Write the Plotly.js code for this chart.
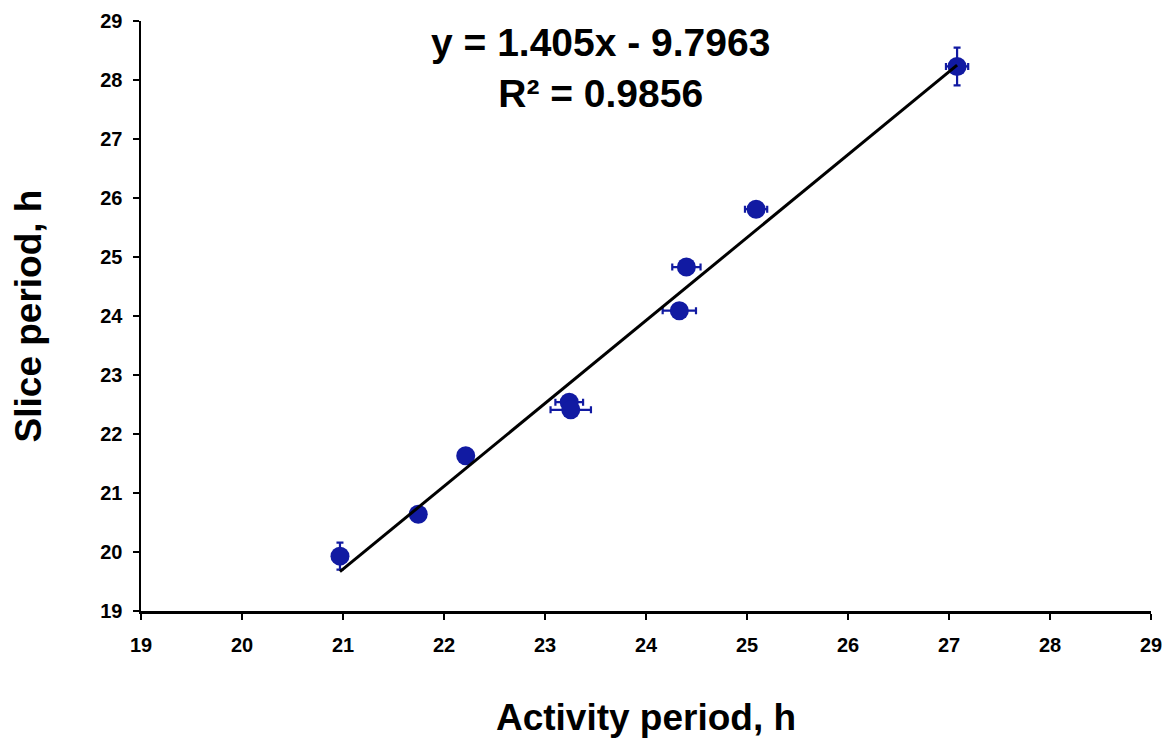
<!DOCTYPE html>
<html>
<head>
<meta charset="utf-8">
<script src="https://cdn.plot.ly/plotly-3.0.1.min.js"></script>
<style>html,body{margin:0;padding:0;background:#fff;}</style>
</head>
<body>
<div id="chart" style="width:1169px;height:743px;"></div>
<script>
// Data
const activityPeriod = [20.97, 21.745, 22.215, 23.24, 23.255, 24.33, 24.40, 25.09, 27.08];
const slicePeriod    = [19.93, 20.64, 21.63, 22.54, 22.41, 24.09, 24.83, 25.81, 28.23];
const activityErr    = [0.04, 0.05, 0.05, 0.137, 0.20, 0.165, 0.14, 0.11, 0.11];
const sliceErr       = [0.23, 0.05, 0.05, 0.05, 0.05, 0.05, 0.05, 0.05, 0.32];
const fitSlope = 1.405;
const fitIntercept = -9.7963;
const fitR2 = 0.9856;
const tickValues = [19, 20, 21, 22, 23, 24, 25, 26, 27, 28, 29];

const xMin = Math.min(...activityPeriod);
const xMax = Math.max(...activityPeriod);
const fitX = [xMin, xMax];
const fitY = fitX.map(v => fitSlope * v + fitIntercept);

const blue = '#111aa2';
const FONT = '"Liberation Sans", Arial, sans-serif';

const traces = [
  {
    type: 'scatter', mode: 'markers',
    x: activityPeriod, y: slicePeriod,
    marker: {color: blue, size: 19, line: {width: 0}},
    error_x: {type: 'data', array: activityErr, visible: true, color: blue, thickness: 2.2, width: 3.5},
    error_y: {type: 'data', array: sliceErr, visible: true, color: blue, thickness: 2.2, width: 3.5},
    showlegend: false, hoverinfo: 'x+y'
  },
  {
    type: 'scatter', mode: 'lines',
    x: fitX, y: fitY,
    line: {color: '#000', width: 3},
    showlegend: false, hoverinfo: 'skip'
  }
];

const axisCommon = {
  range: [19, 29],
  tickvals: tickValues,
  ticktext: tickValues.map(String),
  showgrid: false, zeroline: false,
  showline: true, linecolor: '#000', linewidth: 2.5,
  ticks: 'outside', ticklen: 6, tickwidth: 2.5, tickcolor: '#000',
  tickfont: {family: FONT, size: 20, color: '#000', weight: 'bold'},
  mirror: false, fixedrange: true
};

const layout = {
  width: 1169, height: 743,
  margin: {l: 141, r: 18, t: 21, b: 132},
  paper_bgcolor: '#fff', plot_bgcolor: '#fff',
  font: {family: FONT, color: '#000'},
  xaxis: Object.assign({}, axisCommon, {
    ticklabelstandoff: 8,
    title: {text: 'Activity period, h', font: {family: FONT, size: 37, color: '#000', weight: 'bold'}, standoff: 50}
  }),
  yaxis: Object.assign({}, axisCommon, {
    ticklabelstandoff: 6,
    title: {text: 'Slice period, h', font: {family: FONT, size: 37, color: '#000', weight: 'bold'}, standoff: 48}
  }),
  annotations: [{
    xref: 'x', yref: 'y', x: 23.55, y: 28.2,
    text: 'y = ' + fitSlope + 'x - ' + Math.abs(fitIntercept) + '<br>R² = ' + fitR2,
    showarrow: false, xanchor: 'center', yanchor: 'middle', align: 'center',
    font: {family: FONT, size: 39, color: '#000', weight: 'bold'}
  }]
};

Plotly.newPlot('chart', traces, layout, {displayModeBar: false, staticPlot: true});
</script>
</body>
</html>
